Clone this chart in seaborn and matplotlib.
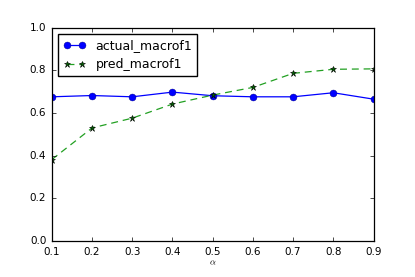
import seaborn as sns
import pandas as pd
from matplotlib import pyplot as plt

# values
alpha = [0.1, 0.2, 0.3, 0.4, 0.5, 0.6, 0.7, 0.8, 0.9]
actual_macrof1 = [0.676, 0.682, 0.676, 0.698, 0.681, 0.676, 0.676, 0.695, 0.665]
pred_macrof1 = [0.382, 0.530, 0.576, 0.642, 0.684, 0.720, 0.786, 0.805, 0.807]

df = pd.DataFrame({'alpha': alpha, 'actual_macrof1': actual_macrof1,
                   'pred_macrof1': pred_macrof1})

plt.style.use('classic')
plt.rcParams['font.family'] = ['DejaVu Sans']

fig, ax = plt.subplots(figsize=(4.15, 2.77), dpi=100)
fig.subplots_adjust(left=0.125, right=0.9, top=0.9, bottom=0.13)

sns.lineplot(x='alpha', y='actual_macrof1', data=df, ax=ax, color='blue',
             marker='o', markersize=5, linewidth=0.9, label='actual_macrof1',
             markeredgecolor='#000080', markeredgewidth=0.3)
sns.lineplot(x='alpha', y='pred_macrof1', data=df, ax=ax, color='#22a022',
             linestyle=(0, (5, 3.5)), marker='*', markersize=4.5, linewidth=0.9,
             markerfacecolor='#006400', markeredgecolor='black',
             markeredgewidth=0.4, label='pred_macrof1')

ax.set_xlim(0.1, 0.9)
ax.set_ylim(0.0, 1.0)
ax.set_xticks([0.1, 0.2, 0.3, 0.4, 0.5, 0.6, 0.7, 0.8, 0.9])
ax.set_yticks([0.0, 0.2, 0.4, 0.6, 0.8, 1.0])
ax.tick_params(labelsize=7.5, length=3, width=0.5)
ax.set_xlabel(r'$\alpha$', fontsize=6.5, labelpad=1)
ax.set_ylabel('')
for s in ax.spines.values():
    s.set_linewidth(0.9)

ax.legend(loc='upper left', fontsize=9, numpoints=2, fancybox=False,
          borderpad=0.4, handlelength=1.8, frameon=True)

plt.savefig('out.png', dpi=100)
